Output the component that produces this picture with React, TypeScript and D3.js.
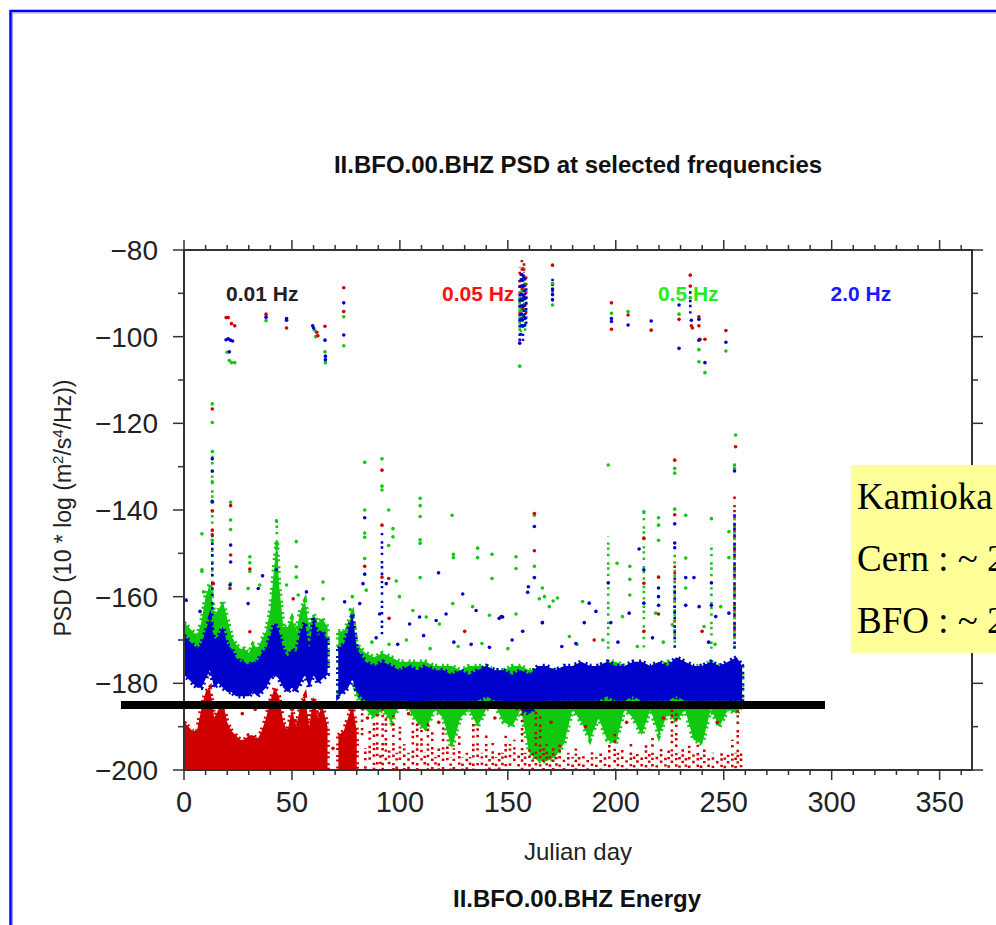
import React from 'react';
import * as d3 from 'd3';

// ---------- data ----------
const xMajorTicks = [0, 50, 100, 150, 200, 250, 300, 350];
const yMajorTicks = [-80, -100, -120, -140, -160, -180, -200];
const freqLabels = ['0.01 Hz', '0.05 Hz', '0.5 Hz', '2.0 Hz'];
const freqLabelDays = [19.5, 119.5, 219.5, 299.5];

// dense bands: [day, low PSD, high PSD]
const blueBand = [
  [0,-178,-169],[2,-179,-170],[4,-180,-171],[6,-181,-172],[8,-181,-171],[10,-179,-168],[12,-177,-165],[14,-181,-170],[16,-180,-169],[18,-181,-167],[20,-182,-171],[22,-182,-172],[24,-183,-174],[26,-183,-175],[28,-183,-175],[30,-183,-176],[32,-182,-175],[34,-183,-175],[36,-182,-173],[38,-181,-172],[40,-179,-169],[42,-178,-166],[44,-179,-168],[46,-181,-172],[48,-182,-174],[50,-181,-172],[52,-182,-173],[54,-180,-168],[56,-178,-166],[58,-181,-172],[60,-178,-165],[62,-180,-169],[64,-179,-168],[66.5,-178,-170],
  [71.5,-183,-172],[74,-182,-171],[76,-181,-168],[78,-179,-164],[80,-182,-172],[84,-184,-175],[88,-184,-176],[92,-184,-175],[96,-184,-176],[100,-184,-177],[104,-184,-176],[108,-185,-177],[112,-184,-176],[116,-184,-177],[120,-184,-177],[124,-184,-178],[128,-184,-177],[132,-184,-178],[136,-184,-177],[140,-183,-176],[144,-184,-177],[148,-184,-177],[152,-185,-178],[156,-186,-177],[160,-187,-178],[164,-185,-176],[168,-184,-176],[172,-184,-177],[176,-184,-176],[180,-184,-176],[184,-184,-175],[188,-184,-176],[192,-184,-176],[196,-183,-175],[200,-184,-176],[204,-184,-176],[208,-183,-175],[212,-184,-175],[216,-184,-176],[220,-184,-175],[224,-184,-176],[228,-183,-174],[232,-184,-175],[236,-184,-176],[240,-184,-176],[244,-184,-175],[248,-184,-176],[252,-184,-175],[256,-184,-174],[258.5,-184,-176]
];

const greenBand = [
  [0,-176,-166],[2,-176,-167],[4,-177,-168],[6,-178,-169],[8,-177,-166],[10,-174,-160],[12,-172,-157],[14,-176,-164],[16,-175,-163],[18,-175,-161],[20,-177,-165],[22,-178,-169],[24,-179,-171],[26,-179,-172],[28,-179,-172],[30,-179,-173],[32,-178,-171],[34,-179,-172],[36,-178,-170],[38,-177,-168],[40,-175,-163],[42,-173,-152],[43,-172,-147],[44,-174,-157],[46,-177,-167],[48,-178,-167],[50,-177,-165],[52,-178,-168],[54,-176,-163],[56,-174,-161],[58,-177,-167],[60,-175,-164],[62,-177,-166],[64,-176,-165],[66.5,-176,-167],
  [71.5,-182,-168],[74,-182,-168],[76,-180,-166],[78,-178,-164],[80,-183,-171],[84,-186,-173],[88,-188,-174],[92,-186,-173],[96,-189,-174],[100,-185,-175],[104,-186,-175],[108,-189,-175],[112,-191,-175],[116,-186,-176],[120,-188,-176],[124,-195,-176],[128,-188,-177],[132,-186,-176],[136,-190,-176],[140,-186,-176],[144,-185,-177],[148,-189,-177],[152,-190,-176],[156,-186,-176],[160,-196,-177],[164,-198,-177],[168,-198,-177],[172,-197,-177],[176,-194,-177],[180,-186,-176],[184,-189,-176],[188,-193,-176],[192,-188,-176],[196,-193,-175],[200,-194,-175],[204,-186,-176],[208,-188,-176],[212,-192,-176],[216,-186,-176],[220,-192,-176],[224,-187,-175],[228,-189,-175],[232,-186,-176],[236,-193,-176],[240,-194,-176],[244,-186,-175],[248,-190,-176],[252,-186,-176],[256,-187,-175],[258.5,-185,-176]
];

const redBand = [
  [0,-200,-189],[2,-200,-190],[4,-200,-191],[6,-200,-191],[8,-200,-186],[10,-200,-182],[12,-200,-181],[14,-200,-188],[16,-200,-186],[18,-200,-184],[20,-200,-189],[22,-200,-191],[24,-200,-192],[26,-200,-193],[28,-200,-193],[30,-200,-192],[32,-200,-192],[34,-200,-193],[36,-200,-191],[38,-200,-188],[40,-200,-184],[42,-200,-181],[44,-200,-183],[46,-200,-189],[48,-200,-191],[50,-200,-186],[52,-200,-190],[54,-200,-185],[56,-200,-183],[58,-200,-190],[60,-200,-183],[62,-200,-188],[64,-200,-185],[66.5,-200,-190],
  [71.5,-200,-192],[74,-200,-191],[76,-200,-188],[78,-200,-185],[80,-200,-191]
];

// sparse vertical streaks: [day, low PSD, high PSD]
const redColumns = [
  [82.5,-192,-184],[84,-200,-195],[86,-199,-191],[88,-200,-189],[89.5,-199,-186],[91,-200,-196],[92,-200,-184],[93.5,-198,-188],[95,-200,-195],[97,-200,-187],[98.5,-200,-196],[100,-199,-190],[102,-200,-194],[104,-200,-196],[106,-200,-189],[108,-200,-188],[110,-198,-190],[111.5,-200,-196],[113,-200,-189],[115,-200,-191],[116.5,-200,-197],[118,-200,-195],[120,-200,-189],[122,-199,-193],[123.5,-200,-197],[125,-200,-195],[127.5,-200,-192],[129,-200,-197],[131,-200,-196],[132.5,-200,-197],[134,-200,-189],[136,-199,-190],[138,-200,-196],[140,-200,-192],[141.5,-200,-197],[143,-200,-193],[144.5,-200,-197],[146,-200,-196],[147.5,-200,-196],[149,-200,-192],[151,-199,-194],[153,-199,-193],[155,-200,-196],[156.6,-200,-186],[158,-200,-196],[160,-200,-195],[161.5,-200,-196],[163,-200,-185],[165,-200,-187],[166.5,-200,-195],[168,-200,-194],[169.5,-200,-196],[171,-200,-195],[172.5,-200,-197],[174,-200,-193],[176,-200,-197],[178,-200,-196],[180,-200,-197],[181.5,-200,-194],[183,-200,-197],[185,-200,-196],[187,-200,-197],[189,-200,-195],[191,-200,-197],[193,-200,-196],[195,-200,-197],[197,-200,-193],[199.5,-200,-191],[201,-200,-196],[203,-200,-195],[205,-200,-197],[207,-200,-194],[208.5,-200,-196],[210,-200,-196],[212,-200,-197],[214,-200,-193],[215.5,-200,-196],[217,-200,-192],[219,-200,-196],[221,-200,-195],[223,-200,-197],[224.5,-200,-195],[226,-200,-185],[228,-200,-186],[229.5,-200,-196],[231,-200,-195],[232.5,-200,-197],[234,-200,-194],[236,-200,-196],[238,-200,-194],[239.5,-200,-197],[241,-200,-194],[243,-200,-197],[245,-200,-196],[247,-200,-197],[249,-200,-195],[250.5,-200,-197],[252,-200,-196],[254,-200,-193],[255.5,-200,-196],[256.5,-200,-185],[258,-200,-195],
  [155.5,-97,-84],[156.5,-98,-82],[157.5,-96,-83],[158.5,-95,-86],[227.3,-170,-152],[255,-170,-136]
];
const greenColumns = [
  [13.1,-160,-126],[43,-157,-142],[155.5,-100,-90],[156,-99,-88],[157,-98,-86],[158,-100,-87],[196.5,-172,-146],[213,-172,-140],[227.3,-172,-150],[244.3,-172,-148],[255,-172,-142]
];
const blueColumns = [
  [155.5,-101,-87],[156,-100,-85],[156.5,-99,-84],[157,-101,-84],[157.5,-98,-85],[158,-99,-86],[158.5,-97,-88],[170.7,-92,-86],[234.5,-96,-88],[255,-172,-140],[227.3,-172,-155],[91.7,-170,-145],[13.1,-172,-146]
];

// individual points: [day, PSD]
const greenPoints = [
  [20,-103.6],[21,-105.5],[22,-106],[23.5,-106],[38,-96.3],[60.5,-98.5],[61,-100],[65.3,-103.5],[65.5,-106],[74,-95.4],[74,-102.1],[155.5,-106.8],[170.7,-87.7],[170.7,-92.7],[198,-94.6],[205.7,-94.2],[229.3,-94.8],[234.5,-91],[238.5,-103],[238.5,-105.8],[241.3,-108.3],[251,-103.3],[255.5,-122.7],
  [13.1,-115.5],[13.1,-119.8],[13.1,-126.5],[13.1,-133.5],[13.1,-138.2],[13.1,-147],[8.3,-145.5],[8.3,-153.8],[8.3,-154.2],[21.6,-138.2],[21.6,-142.3],[21.6,-144.5],[21.6,-157],[30.5,-150.8],[30.5,-152.2],[30.5,-154.2],[42.8,-142.5],[52,-147.3],[52,-153.1],[52,-155.5],[83.7,-129],[83.7,-140],[83.7,-145.3],[83.7,-146.3],[83.7,-151.2],[91.7,-128.2],[91.7,-134.5],[91.7,-135.4],[94.8,-140],[94.8,-148.2],[96.8,-144.3],[96.8,-146.2],[109.4,-137.3],[109.4,-139],[109.4,-141.5],[109.4,-146.9],[109.4,-147.7],[109.4,-155.6],[124.2,-141.2],[124.8,-150.2],[124.8,-151],[136,-148.8],[136,-151],[142.7,-150.2],[142.7,-155.8],[153.8,-150.8],[153.8,-153.5],[196.5,-129.6],[162.3,-141.2],[162.3,-153],[166,-158],[167,-160],[171,-161],[213,-140.4],[219.8,-141.8],[219.8,-143.5],[219.8,-147],[227.3,-130.4],[227.3,-131.5],[227.3,-139.8],[232.4,-141.2],[232.4,-151.1],[232.4,-158],[244.3,-142],[252.4,-145],[252.4,-151],[255,-129.6],[255,-130.4],[200.6,-152.3],[206.5,-153],[206.5,-156],[206.5,-159.6],
  [84.4,-158.5],[99.8,-160],[106,-163.2],[112.2,-164.7],[118.3,-166.3],[124.5,-161.6],[133.7,-162.3],[141.5,-164.3],[153.8,-164],[98.3,-156.4],[164.6,-160.5],[169.2,-162.3],[173,-160.3],[178.5,-169.2],[184.6,-161.1],[203.1,-164.6],[218.5,-163.8],[226.2,-166.5],[240.9,-166.9],[248.6,-162.3],
  [9,-158.9],[18.2,-163.2],[29.7,-158.1],[35.1,-157.3],[47.5,-157.3],[52.9,-159.6],[64.4,-156.6],[64.4,-160.5],[77,-163],[78,-160],
  [87,-170.5],[95,-171],[103,-170],[114,-172],[127,-171.5],[138,-170.8],[150,-172],[182,-171],[194,-170],[210,-171.5],[222,-170.5],[246,-171]
];
const bluePoints = [
  [19.5,-100.7],[20.5,-100.5],[21.5,-100.8],[22.5,-101],[21,-103.5],[38,-95.5],[47.5,-95.8],[47.5,-96.2],[59.6,-97.5],[60,-98],[65.3,-100.8],[65.5,-104.5],[65.5,-105.3],[74,-92.2],[74,-99.6],[155.5,-101.5],[170.7,-89],[170.7,-90.3],[170.7,-91.5],[198,-95.8],[198,-96.5],[205.7,-97.3],[216.4,-96.4],[229.3,-92.7],[229.3,-102.7],[235,-96.2],[238.5,-96],[238.5,-100.8],[241.3,-106],[251,-101.3],
  [1,-160.8],[13.1,-128.2],[13.1,-131],[13.1,-138],[21.6,-148.1],[21.6,-152],[36.4,-155.2],[42.8,-153.8],[83.7,-141.8],[83.7,-154.8],[117.9,-154.5],[196.5,-156.8],[162.3,-143.8],[162.3,-155.6],[159.5,-157.7],[213,-153.8],[213,-161.5],[219.8,-158],[219.8,-160],[219.8,-162],[227.3,-143.2],[227.3,-147.6],[227.3,-148.7],[232.4,-155.6],[232.4,-162],[244.3,-156.8],[244.3,-162],[255,-131],[236.2,-155.6],[210.8,-149],[146,-165],
  [147,-164.6],[156.9,-168],[166,-166],[185.4,-166],[187.7,-161.5],[190.8,-163.4],[206.2,-163.8],[238.6,-162.3],[246.3,-164.6],[252.4,-163.8],[181.5,-170.8],[197.7,-166],
  [74.4,-161.2],[81.4,-161.6],[90.6,-164],[104.5,-166.3],[109.1,-164.7],[116.8,-165.5],[121.4,-164],[129.1,-159.4],[135.3,-163.2],[141.5,-171.7],[147.6,-164.7],[159.2,-159],[82.9,-157],[93.7,-157],
  [7.4,-163.4],[21.3,-157.3],[29.7,-161.6],[34.4,-158.1],[56.7,-158.9],
  [89,-169.5],[99,-171],[111,-169],[125,-170.5],[133,-171],[152,-170],[175,-171.5],[201,-170.5],[217,-169.5],[243,-170.5]
];
const redPoints = [
  [19.5,-95.6],[20.5,-95.6],[22,-97],[23.5,-97.5],[38,-94.8],[47.5,-98],[61.5,-99],[62,-99.8],[65.3,-97.6],[74,-88.7],[74,-94.2],[170.7,-83.5],[198,-92.2],[198,-98.3],[205.7,-95],[216.4,-98.5],[229.3,-96],[234.5,-85.8],[234.5,-88.3],[235,-97.5],[235.5,-98],[238.5,-95.4],[238.5,-97.5],[239,-100.6],[241.3,-100.6],[251,-98.6],[255.5,-125.4],
  [13.1,-116.7],[13.1,-140.2],[13.1,-144.6],[13.1,-145.7],[21.6,-139],[21.6,-150.4],[30.5,-153.6],[83.7,-153],[91.7,-130.8],[91.7,-143.5],[91.7,-155.5],[94.8,-155.8],[162.3,-140.8],[162.3,-149.4],[166,-166],[213,-146.5],[213,-156.9],[213,-168],[219.8,-155.5],[219.8,-164],[227.3,-128.5],[227.3,-141.1],
  [21.3,-158.1],[30.5,-168.1],[13.6,-157],[50.6,-160.5],[95,-165],[130,-168],[190,-170],[240,-168],
  [5,-185],[27,-187],[33,-186],[47,-185.5],[69,-195],[85,-188],[104,-187],[118,-189],[144,-188],[170,-189],[186,-190],[205,-189],[222,-188],[247,-189]
];

const boxLines = ['Kamioka', 'Cern : ~ 2', 'BFO : ~ 2'];

// ---------- styles ----------
const RED = '#d00000', GREEN = '#10c810', BLUE = '#0000cc';
const labelColors = ['#222222', '#ff1010', '#22ee22', '#1a1aff'];
const SANS = '"Liberation Sans", Arial, Helvetica, sans-serif';
const SERIF = '"Liberation Serif", "Times New Roman", serif';

function splitSegments(band: number[][]) {
  const segs: number[][][] = [];
  let cur: number[][] = [];
  band.forEach((d, i) => {
    if (i > 0 && d[0] - band[i - 1][0] > 4) { segs.push(cur); cur = []; }
    cur.push(d);
  });
  segs.push(cur);
  return segs;
}

export default function App() {
  const x = d3.scaleLinear().domain([0, 365]).range([184, 972]);
  const y = d3.scaleLinear().domain([-200, -80]).range([770, 250]);
  const area = d3.area<number[]>()
    .x(d => x(d[0])).y0(d => y(d[1])).y1(d => y(d[2])).curve(d3.curveLinear);

  const band = (data: number[][], color: string, key: string) =>
    splitSegments(data).map((seg, i) => (
      <path key={key + i} d={area(seg) || ''} fill={color} stroke={color}
        strokeWidth={4.5} strokeDasharray="2 2.5 2 5" />
    ));
  const cols = (data: number[][], color: string, key: string) =>
    data.map((d, i) => (
      <line key={key + i} x1={x(d[0])} x2={x(d[0])} y1={y(d[1])} y2={y(d[2])}
        stroke={color} strokeWidth={2.6} strokeDasharray="2.4 2.6 2.4 6 2.4 4"
        strokeDashoffset={(i * 3.7) % 11} />
    ));
  const pts = (data: number[][], color: string, key: string) =>
    data.map((d, i) => <circle key={key + i} cx={x(d[0])} cy={y(d[1])} r={1.8} fill={color} />);

  const xMinor = d3.range(0, 370, 10);
  const yMinor = d3.range(-200, -79, 10);
  const axisColor = '#333';
  const [x0, x1] = x.range();
  const [yb, yt] = y.range();

  return (
    <svg width={996} height={925} style={{ position: 'absolute', left: 0, top: 0, background: '#fff' }}
      fontFamily={SANS}>
      <defs>
        <clipPath id="plot"><rect x={x0} y={yt} width={x1 - x0} height={yb - yt} /></clipPath>
      </defs>
      {/* slide border */}
      <line x1={10} y1={11} x2={996} y2={11} stroke="#0000ee" strokeWidth={2.5} />
      <line x1={10.5} y1={10} x2={10.5} y2={925} stroke="#0000ee" strokeWidth={2.5} />
      <line x1={12} y1={13} x2={996} y2={13} stroke="#9999ff" strokeWidth={1} />
      <line x1={12.5} y1={13} x2={12.5} y2={925} stroke="#9999ff" strokeWidth={1} />

      <text x={578} y={173} textAnchor="middle" fontSize={24} fontWeight="bold" fill="#111">
        II.BFO.00.BHZ PSD at selected frequencies
      </text>

      <g clipPath="url(#plot)">
        {band(greenBand, GREEN, 'gb')}
        {band(redBand, RED, 'rb')}
        {cols(redColumns, RED, 'rc')}
        {band(blueBand, BLUE, 'bb')}
        {cols(greenColumns, GREEN, 'gc')}
        {cols(blueColumns, BLUE, 'bc')}
        {pts(greenPoints, GREEN, 'gp')}
        {pts(redPoints, RED, 'rp')}
        {pts(bluePoints, BLUE, 'bp')}
      </g>

      {freqLabels.map((t, i) => (
        <text key={t} x={x(freqLabelDays[i])} y={y(-91.8)} fontSize={21} fontWeight="bold" fill={labelColors[i]}>{t}</text>
      ))}

      {/* frame */}
      <rect x={x0} y={yt} width={x1 - x0} height={yb - yt} fill="none" stroke={axisColor} strokeWidth={2} />
      {xMinor.map(v => {
        const major = v % 50 === 0;
        const len = major ? 10 : 5;
        return (
          <g key={'xt' + v}>
            <line x1={x(v)} x2={x(v)} y1={yb} y2={yb + len} stroke={axisColor} strokeWidth={1.5} />
            <line x1={x(v)} x2={x(v)} y1={yt} y2={yt - len} stroke={axisColor} strokeWidth={1.5} />
          </g>
        );
      })}
      {yMinor.map(v => {
        const major = v % 20 === 0;
        const len = major ? 11 : 6;
        return (
          <g key={'yt' + v}>
            <line x1={x0} x2={x0 - len} y1={y(v)} y2={y(v)} stroke={axisColor} strokeWidth={1.5} />
            <line x1={x1} x2={x1 + len} y1={y(v)} y2={y(v)} stroke={axisColor} strokeWidth={1.5} />
          </g>
        );
      })}
      {xMajorTicks.map(v => (
        <text key={'xl' + v} x={x(v)} y={812} textAnchor="middle" fontSize={29} fill="#222">{v}</text>
      ))}
      {yMajorTicks.map(v => (
        <text key={'yl' + v} x={158} y={y(v) + 10} textAnchor="end" fontSize={28} fill="#222">
          {String(v).replace('-', '\u2212')}
        </text>
      ))}

      <text transform="translate(71,508) rotate(-90)" textAnchor="middle" fontSize={23} fill="#222">
        PSD (10 * log (m<tspan fontSize={15} dy={-8}>2</tspan><tspan dy={8}>/s</tspan><tspan fontSize={15} dy={-8}>4</tspan><tspan dy={8}>/Hz))</tspan>
      </text>
      <text x={578} y={860} textAnchor="middle" fontSize={24} fill="#222">Julian day</text>
      <text x={577} y={907} textAnchor="middle" fontSize={24} fontWeight="bold" fill="#111">II.BFO.00.BHZ Energy</text>

      {/* annotation box */}
      <rect x={851} y={465} width={150} height={188} fill="#ffff99" />
      {boxLines.map((t, i) => (
        <text key={t} x={857} y={509 + i * 62} fontFamily={SERIF} fontSize={37} fill="#000">{t}</text>
      ))}

      {/* thick reference line */}
      <line x1={121} x2={825} y1={705} y2={705} stroke="#000" strokeWidth={8} />
    </svg>
  );
}
